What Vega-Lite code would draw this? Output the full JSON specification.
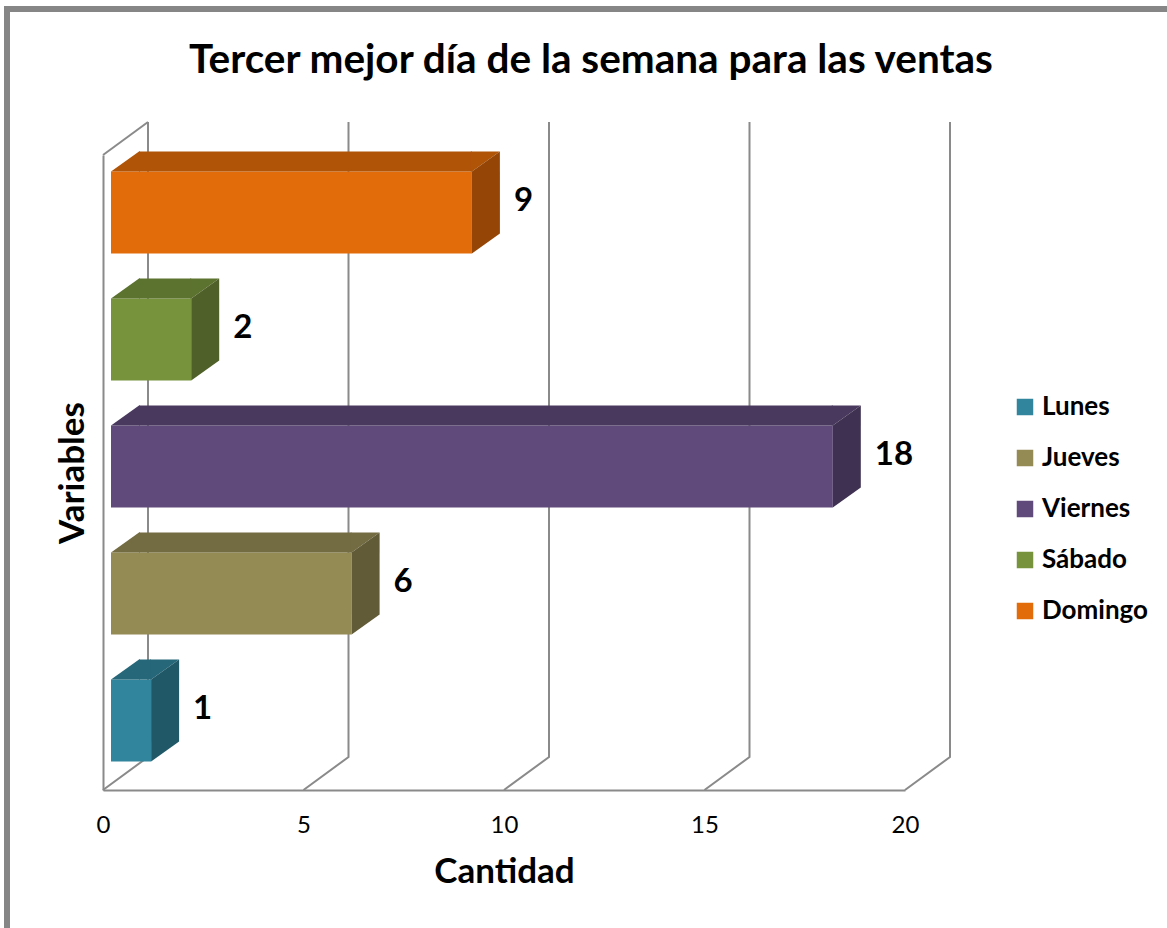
{
  "$schema": "https://vega.github.io/schema/vega-lite/v6.json",
  "width": 802,
  "height": 635,
  "autosize": "none",
  "padding": {"left": 103, "top": 155, "right": 262, "bottom": 138},
  "background": "white",
  "title": {
    "text": "Tercer mejor día de la semana para las ventas",
    "font": "Lato", "fontSize": 40.5, "fontWeight": "bold", "color": "#000000",
    "anchor": "middle", "frame": "group", "dx": 87, "offset": -84
  },
  "config": {
    "view": {"stroke": null},
    "axis": {"grid": false}
  },
  "datasets": {
    "ventas": [
      {"dia": "Lunes", "cantidad": 1},
      {"dia": "Jueves", "cantidad": 6},
      {"dia": "Viernes", "cantidad": 18},
      {"dia": "Sábado", "cantidad": 2},
      {"dia": "Domingo", "cantidad": 9}
    ],
    "ticks": [{"t": 0}, {"t": 5}, {"t": 10}, {"t": 15}, {"t": 20}]
  },
  "resolve": {"scale": {"color": "independent"}},
  "layer": [
    {
      "data": {"name": "ticks"},
      "transform": [{"filter": "datum.t == 0"}],
      "mark": {"type": "point", "shape": "M-96,460L-96,-463.5L1070,-463.5", "size": 4, "filled": false, "opacity": 1, "color": "#868686", "strokeWidth": 6},
      "encoding": {
        "x": {"field": "t", "type": "quantitative", "title": "Cantidad", "scale": {"domain": [0, 20], "nice": false}}
      }
    },
    {
      "data": {"name": "ticks"},
      "mark": {"type": "point", "shape": "M45,-350.5L45,284.5L0,317.5", "size": 4, "filled": false, "opacity": 1, "color": "#8a8a8a", "strokeWidth": 2},
      "encoding": {
        "x": {"field": "t", "type": "quantitative", "title": "Cantidad", "scale": {"domain": [0, 20], "nice": false}}
      }
    },
    {
      "data": {"name": "ticks"},
      "transform": [{"filter": "datum.t == 0"}],
      "mark": {"type": "point", "shape": "M0,-317.5L45,-350.5", "size": 4, "filled": false, "opacity": 1, "color": "#8a8a8a", "strokeWidth": 2},
      "encoding": {
        "x": {"field": "t", "type": "quantitative", "title": "Cantidad", "scale": {"domain": [0, 20], "nice": false}}
      }
    },
    {
      "data": {"name": "ventas"},
      "mark": {"type": "bar", "xOffset": 8, "x2Offset": 8, "yOffset": -6},
      "encoding": {
        "x": {"field": "cantidad", "type": "quantitative", "title": "Cantidad",
              "scale": {"domain": [0, 20], "nice": false},
              "axis": {"values": [0, 5, 10, 15, 20], "labelFlush": false, "domainColor": "#8a8a8a", "domainWidth": 2, "ticks": false, "labelFont": "Lato", "labelFontSize": 24, "labelColor": "#000000", "labelPadding": 23, "titleFont": "Lato", "titleFontSize": 35, "titleFontWeight": "bold", "titleColor": "#000000", "titlePadding": 17}},
        "x2": {"datum": 0},
        "y": {"field": "dia", "type": "nominal", "title": "Variables",
              "sort": ["Domingo", "Sábado", "Viernes", "Jueves", "Lunes"],
              "scale": {"paddingInner": 0.354, "paddingOuter": 0.177},
              "axis": {"domainColor": "#8a8a8a", "domainWidth": 2, "ticks": false, "labels": false, "titleFont": "Lato", "titleFontSize": 35, "titleFontWeight": "bold", "titleColor": "#000000", "titlePadding": 13}},
        "color": {"field": "dia", "type": "nominal",
                  "scale": {"domain": ["Lunes", "Jueves", "Viernes", "Sábado", "Domingo"], "range": ["#31859C", "#948A54", "#604A7B", "#77933C", "#E36C0A"]},
                  "legend": {"title": null, "orient": "none", "legendX": 909, "legendY": 239, "symbolType": "square", "symbolSize": 272, "symbolStrokeWidth": 0, "labelFont": "Lato", "labelFontSize": 26, "labelFontWeight": "bold", "labelColor": "#000000", "labelOffset": 4, "rowPadding": 25, "padding": 0}}
      }
    },
    {
      "data": {"name": "ventas"},
      "mark": {"type": "bar", "height": 20, "xOffset": 8, "x2Offset": 36, "yOffset": -57},
      "encoding": {
        "x": {"field": "cantidad", "type": "quantitative", "title": "Cantidad", "scale": {"domain": [0, 20], "nice": false}},
        "x2": {"datum": 0},
        "y": {"field": "dia", "type": "nominal", "title": "Variables", "sort": ["Domingo", "Sábado", "Viernes", "Jueves", "Lunes"], "scale": {"paddingInner": 0.354, "paddingOuter": 0.177}},
        "color": {"field": "dia", "type": "nominal", "legend": null,
                  "scale": {"domain": ["Lunes", "Jueves", "Viernes", "Sábado", "Domingo"], "range": ["#266779", "#736B41", "#4A395F", "#5C722F", "#B05408"]}}
      }
    },
    {
      "data": {"name": "ventas"},
      "mark": {"type": "point", "shape": "M0,-41L28,-61L29,-61L29,-41Z", "size": 4, "filled": true, "opacity": 1, "strokeWidth": 0, "xOffset": 8, "yOffset": -6},
      "encoding": {
        "x": {"datum": 0, "type": "quantitative", "title": "Cantidad", "scale": {"domain": [0, 20], "nice": false}},
        "y": {"field": "dia", "type": "nominal", "title": "Variables", "sort": ["Domingo", "Sábado", "Viernes", "Jueves", "Lunes"], "scale": {"paddingInner": 0.354, "paddingOuter": 0.177}},
        "color": {"field": "dia", "type": "nominal", "legend": null,
                  "scale": {"domain": ["Lunes", "Jueves", "Viernes", "Sábado", "Domingo"], "range": ["#266779", "#736B41", "#4A395F", "#5C722F", "#B05408"]}}
      }
    },
    {
      "data": {"name": "ventas"},
      "mark": {"type": "point", "shape": "M-1,-41L0,-41L28,-61L-1,-61Z", "size": 4, "filled": true, "opacity": 1, "strokeWidth": 0, "xOffset": 8, "yOffset": -6},
      "encoding": {
        "x": {"field": "cantidad", "type": "quantitative", "title": "Cantidad", "scale": {"domain": [0, 20], "nice": false}},
        "y": {"field": "dia", "type": "nominal", "title": "Variables", "sort": ["Domingo", "Sábado", "Viernes", "Jueves", "Lunes"], "scale": {"paddingInner": 0.354, "paddingOuter": 0.177}},
        "color": {"field": "dia", "type": "nominal", "legend": null,
                  "scale": {"domain": ["Lunes", "Jueves", "Viernes", "Sábado", "Domingo"], "range": ["#266779", "#736B41", "#4A395F", "#5C722F", "#B05408"]}}
      }
    },
    {
      "data": {"name": "ventas"},
      "mark": {"type": "point", "shape": "M0,-41L28,-61L28,21L0,41Z", "size": 4, "filled": true, "opacity": 1, "strokeWidth": 0, "xOffset": 8, "yOffset": -6},
      "encoding": {
        "x": {"field": "cantidad", "type": "quantitative", "title": "Cantidad", "scale": {"domain": [0, 20], "nice": false}},
        "y": {"field": "dia", "type": "nominal", "title": "Variables", "sort": ["Domingo", "Sábado", "Viernes", "Jueves", "Lunes"], "scale": {"paddingInner": 0.354, "paddingOuter": 0.177}},
        "color": {"field": "dia", "type": "nominal", "legend": null,
                  "scale": {"domain": ["Lunes", "Jueves", "Viernes", "Sábado", "Domingo"], "range": ["#205867", "#625B37", "#3F3151", "#4F6128", "#954505"]}}
      }
    },
    {
      "data": {"name": "ventas"},
      "mark": {"type": "text", "align": "left", "baseline": "middle", "dx": 50, "dy": -18, "font": "Lato", "fontSize": 33, "fontWeight": "bold", "color": "#000000"},
      "encoding": {
        "x": {"field": "cantidad", "type": "quantitative", "title": "Cantidad", "scale": {"domain": [0, 20], "nice": false}},
        "y": {"field": "dia", "type": "nominal", "title": "Variables", "sort": ["Domingo", "Sábado", "Viernes", "Jueves", "Lunes"], "scale": {"paddingInner": 0.354, "paddingOuter": 0.177}},
        "text": {"field": "cantidad", "type": "quantitative"}
      }
    }
  ]
}
